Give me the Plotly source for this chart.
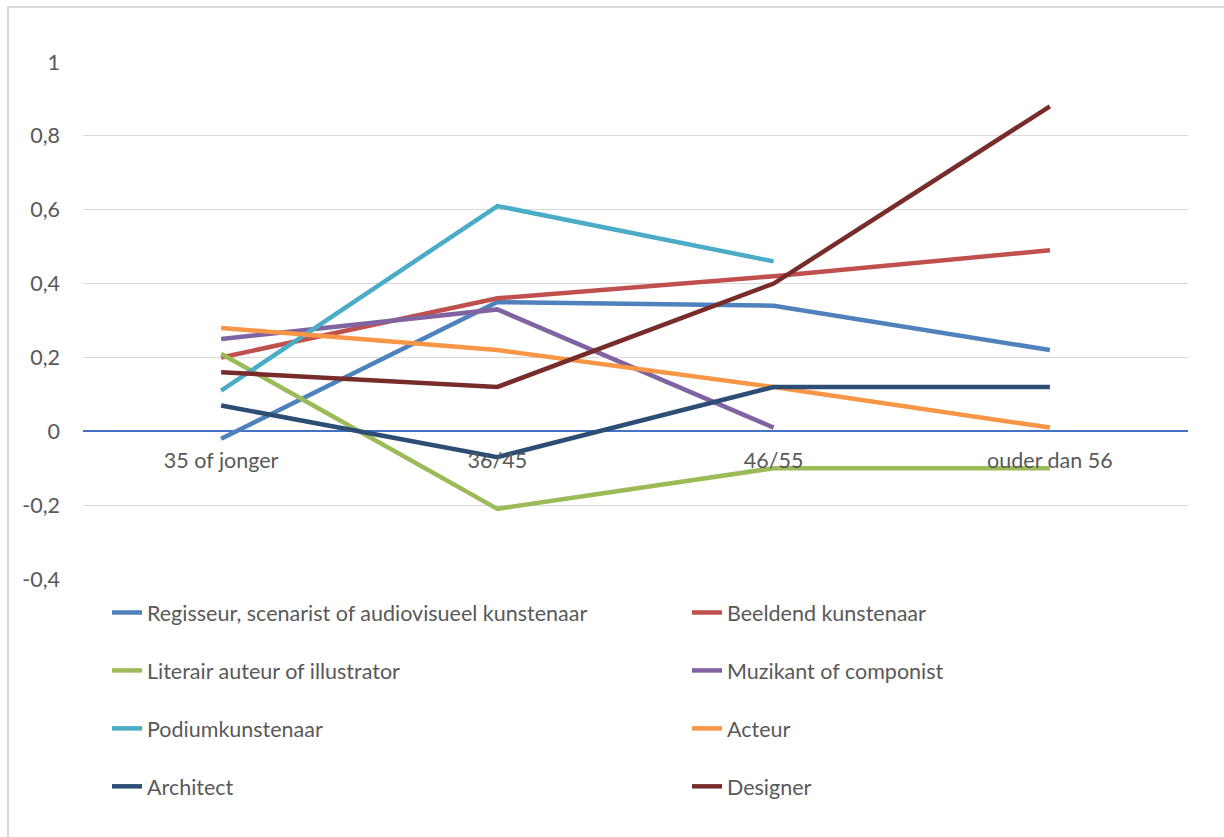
import plotly.graph_objects as go

categories = ["35 of jonger", "36/45", "46/55", "ouder dan 56"]
series_names = [
    "Regisseur, scenarist of audiovisueel kunstenaar",
    "Beeldend kunstenaar",
    "Literair auteur of illustrator",
    "Muzikant of componist",
    "Podiumkunstenaar",
    "Acteur",
    "Architect",
    "Designer",
]
regisseur = [-0.02, 0.35, 0.34, 0.22]
beeldend = [0.20, 0.36, 0.42, 0.49]
literair = [0.21, -0.21, -0.10, -0.10]
muzikant = [0.25, 0.33, 0.01, None]
podium = [0.11, 0.61, 0.46, None]
acteur = [0.28, 0.22, 0.12, 0.01]
architect = [0.07, -0.07, 0.12, 0.12]
designer = [0.16, 0.12, 0.40, 0.88]
series_values = [regisseur, beeldend, literair, muzikant, podium, acteur, architect, designer]
colors = ["#4F81BD", "#C0504D", "#9BBB59", "#8064A2", "#4BACC6", "#F79646", "#2C4D75", "#772C2A"]

ytick_vals = [-0.4, -0.2, 0, 0.2, 0.4, 0.6, 0.8, 1]
ytick_text = ["-0,4", "-0,2", "0", "0,2", "0,4", "0,6", "0,8", "1"]

FONT = "Lato"
W, H = 1224, 837
ml, mr, mt, mb = 83, 36, 62, 258

fig = go.Figure()
for i, (name, vals, col) in enumerate(zip(series_names, series_values, colors)):
    fig.add_trace(go.Scatter(
        x=categories, y=vals, mode="lines", name=name,
        line=dict(color=col, width=4.5),
        legend="legend" if i % 2 == 0 else "legend2",
        legendgroup=f"g{i}",
    ))

pw = W - ml - mr
ph = H - mt - mb
def px_to_paper_x(px):
    return (px - ml) / pw
def px_to_paper_y(py):
    return (H - mb - py) / ph

legend_common = dict(
    orientation="v", yanchor="top", xanchor="left",
    font=dict(family=FONT, size=21.5, color="#595959"),
    bgcolor="rgba(0,0,0,0)", tracegroupgap=27, itemwidth=30,
)

fig.update_layout(
    width=W, height=H,
    margin=dict(l=ml, r=mr, t=mt, b=mb),
    paper_bgcolor="white", plot_bgcolor="white",
    font=dict(family=FONT, size=21.5, color="#595959"),
    xaxis=dict(
        type="category", anchor="free", position=0.4 / 1.4,
        showline=False,
        showgrid=False, ticks="", tickfont=dict(size=21.5, color="#595959"),
        range=[-0.5, 3.5], ticklabelstandoff=14,
    ),
    yaxis=dict(
        range=[-0.4, 1], tickvals=ytick_vals, ticktext=ytick_text,
        showgrid=True, gridcolor="#D9D9D9", gridwidth=1.3,
        zeroline=True, zerolinecolor="#4472C4", zerolinewidth=1.6,
        showline=False, ticks="",
        tickfont=dict(size=21.5, color="#595959"), ticklabelstandoff=22,
    ),
    legend=dict(x=px_to_paper_x(107), y=px_to_paper_y(592), **legend_common),
    legend2=dict(x=px_to_paper_x(687), y=px_to_paper_y(592), **legend_common),
    shapes=[dict(
        type="rect", xref="paper", yref="paper",
        x0=px_to_paper_x(8), x1=px_to_paper_x(1240),
        y0=px_to_paper_y(850), y1=px_to_paper_y(7),
        line=dict(color="#D9D9D9", width=2), layer="below",
    )],
)

fig.write_html("out.html")
